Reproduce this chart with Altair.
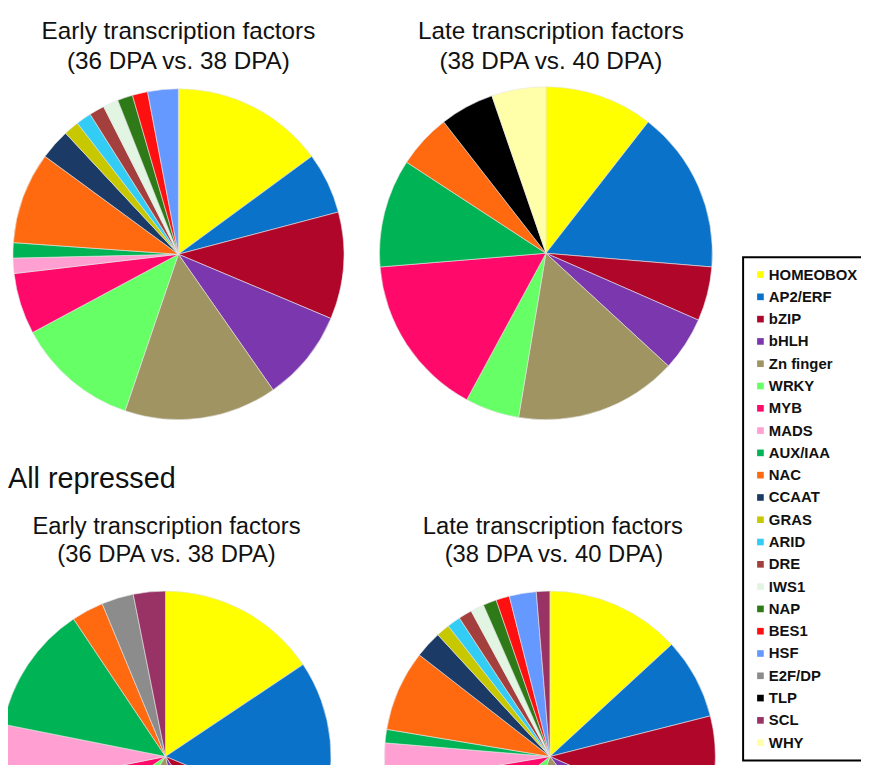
import altair as alt
import pandas as pd

families = ["HOMEOBOX", "AP2/ERF", "bZIP", "bHLH", "Zn finger", "WRKY", "MYB", "MADS",
            "AUX/IAA", "NAC", "CCAAT", "GRAS", "ARID", "DRE", "IWS1", "NAP", "BES1",
            "HSF", "E2F/DP", "TLP", "SCL", "WHY"]
colors = ["#FFFF00", "#0A72C8", "#B0062A", "#7B38AE", "#A09462", "#66FF66", "#FF0A6A", "#FF9FD2",
          "#00B354", "#FF6A10", "#1C3A66", "#C8C800", "#33CCF5", "#A3403E", "#E2F5E2", "#2E7A18", "#FF1010",
          "#6699FF", "#8C8C8C", "#000000", "#993366", "#FFFFAA"]

# counts per family, in the order of `families`
up_early = [10, 4, 7, 6, 10, 8, 4, 1, 1, 6, 2, 1, 1, 1, 1, 1, 1, 2, 0, 0, 0, 0]
up_late = [2, 3, 1, 1, 3, 1, 3, 0, 2, 1, 0, 0, 0, 0, 0, 0, 0, 0, 0, 1, 0, 1]
down_early = [5, 5, 3, 2, 4, 2, 2, 2, 4, 1, 0, 0, 0, 0, 0, 0, 0, 0, 1, 0, 1, 0]
down_late = [10, 6, 8, 6, 12, 7, 6, 3, 1, 6, 2, 1, 1, 1, 1, 1, 1, 2, 0, 0, 1, 0]

title_early = ["Early transcription factors", "(36 DPA vs. 38 DPA)"]
title_late = ["Late transcription factors", "(38 DPA vs. 40 DPA)"]
section_label = "All repressed"


def pie_df(counts):
    rows = [{"family": f, "count": c, "idx": i}
            for i, (f, c) in enumerate(zip(families, counts)) if c > 0]
    return pd.DataFrame(rows)


color_scale = alt.Scale(domain=families, range=colors)


def pie(counts, cx, cy, r, show_legend=False):
    legend = alt.Legend(title=None) if show_legend else None
    return alt.Chart(pie_df(counts)).mark_arc(
        radius=r, stroke="#e6e6e6", strokeWidth=0.6
    ).encode(
        theta=alt.Theta("count:Q", stack=True),
        color=alt.Color("family:N", scale=color_scale, legend=legend),
        order=alt.Order("idx:Q"),
        x=alt.value(cx),
        y=alt.value(cy),
    )


def text(label, x, y, size, font="Liberation Sans", align="center"):
    return alt.Chart(pd.DataFrame({"t": [label]})).mark_text(
        font=font, fontSize=size, align=align, baseline="alphabetic", color="#111111"
    ).encode(text="t:N", x=alt.value(x), y=alt.value(y))


layers = [
    pie(up_early, 172, 245, 167, show_legend=True),
    pie(up_late, 543, 244, 168),
    pie(down_early, 159, 752, 167),
    pie(down_late, 547, 752, 167),
    text(title_early[0], 172, 28, 24.5),
    text(title_early[1], 172, 58, 24.5),
    text(title_late[0], 548, 28, 24.5),
    text(title_late[1], 548, 58, 24.5),
    text(section_label, 0, 481, 29, align="left"),
    text(title_early[0], 160, 527, 24),
    text(title_early[1], 160, 556, 24),
    text(title_late[0], 550, 527, 24),
    text(title_late[1], 551, 556, 24),
]

chart = alt.layer(*layers).resolve_scale(theta="independent").properties(
    width=861, height=757, autosize=alt.AutoSizeParams(type="none"), padding=0,
    background="white",
).configure_view(stroke=None).configure_legend(
    orient="none", legendX=742, legendY=248, padding=10,
    strokeColor="black", strokeWidth=2,
    symbolType="square", symbolSize=45, symbolStrokeWidth=0,
    labelFont="Liberation Sans", labelFontWeight="bold", labelFontSize=15,
    labelColor="#111111", labelOffset=1, rowPadding=6.5, labelLimit=300,
)

chart.save("out.html", embed_options={"renderer": "svg", "actions": False})
